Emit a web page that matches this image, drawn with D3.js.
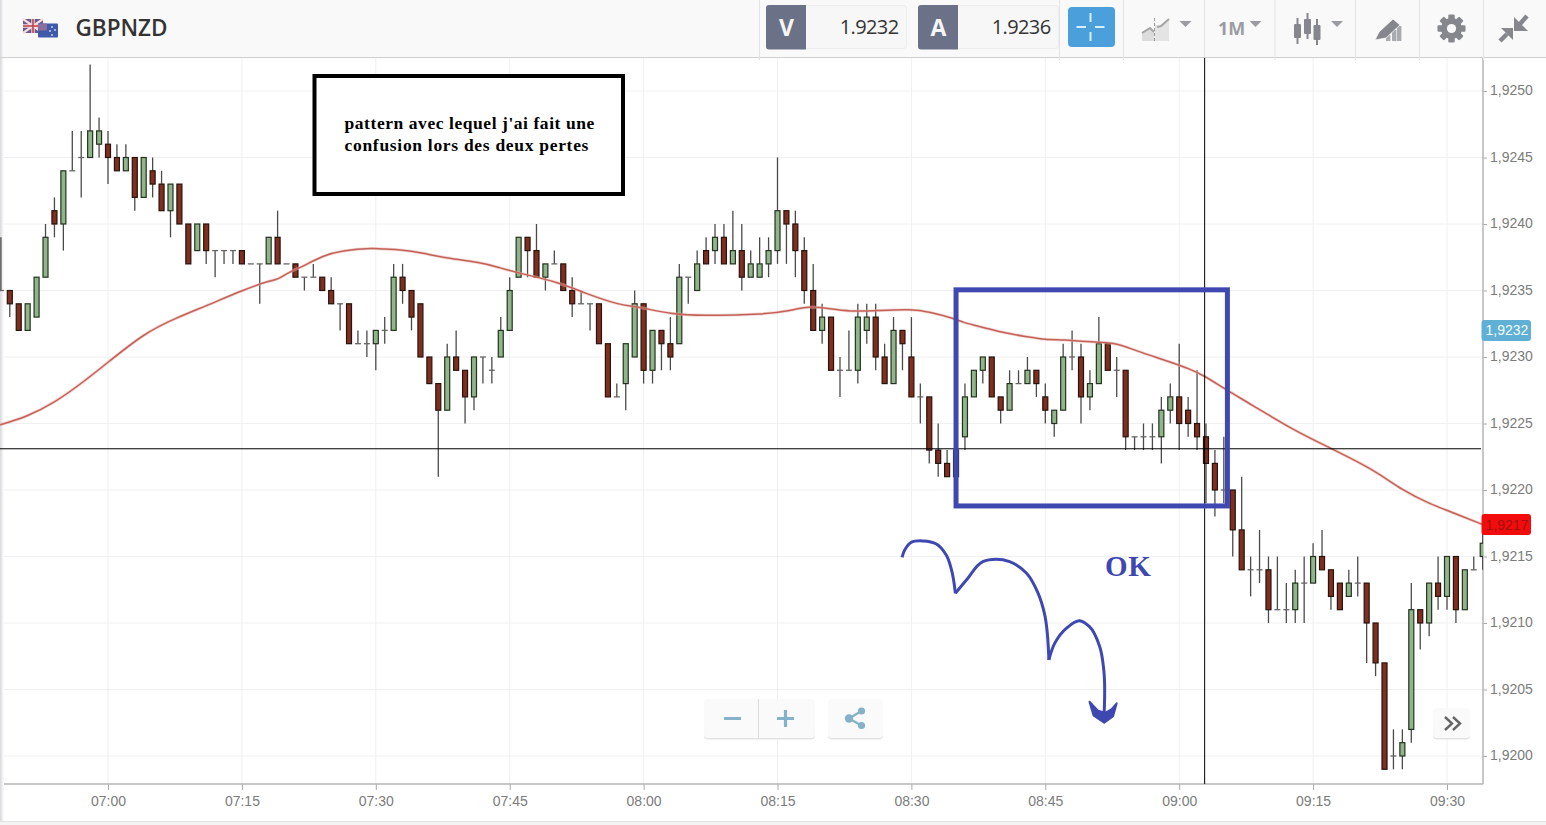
<!DOCTYPE html>
<html><head><meta charset="utf-8">
<script src="https://d3js.org/d3.v7.min.js"></script>
<style>html,body{margin:0;padding:0;background:#fff;overflow:hidden}svg{display:block}</style>
</head><body>
<svg id="c" width="1546" height="825"></svg>
<script>
const symbol = "GBPNZD";
const bidPrice = "1.9232", askPrice = "1.9236";
const firstMinute = -12; // minutes relative to 07:00; prices in pips above 1.9200
const openPips = [
35,35,34,32,33,36,41,40,44,45,
45,46,46,45,44,45,42,44,43,41,
43,40,38,40,38,38,38,38,37,37,
37,39,37,37,36,36,36,35,34,34,
31,31,31,32,32,36,35,34,30,28,
26,30,29,27,30,29,30,32,36,39,
38,36,37,37,35,34,34,34,31,27,
28,30,34,29,32,31,31,36,35,38,
38,39,37,38,36,36,37,38,41,40,
38,35,32,33,29,29,29,32,33,30,
28,32,30,27,27,23,22,21,24,27,
29,30,27,26,28,28,29,27,25,26,
30,30,27,28,31,29,29,24,24,24,
24,26,27,26,25,24,22,20,20,17,
14,14,14,11,11,11,13,13,15,14,
13,12,13,13,10,7,0,0,2,11,
10,13,12,15,11,14,15];
const closePips = [
35,34,32,34,36,39,40,44,44,45,
47,47,45,44,45,42,45,43,41,43,
40,37,40,38,38,38,38,37,37,37,
39,37,37,36,36,36,35,34,34,31,
31,31,32,32,36,35,33,30,28,26,
30,29,27,30,30,29,32,35,39,38,
36,37,37,35,34,34,34,31,27,27,
31,34,29,32,31,30,36,36,37,37,
39,37,38,36,37,37,38,41,40,38,
35,32,33,29,29,29,33,33,30,28,
32,31,27,27,23,22,21,23,27,29,
30,27,26,28,28,29,28,26,26,30,
30,27,28,31,29,29,24,24,24,24,
26,27,25,25,24,22,20,20,17,14,
14,14,11,11,11,13,13,15,14,12,
11,13,13,10,7,-1,0,1,11,10,
13,12,15,11,14,14,16];
const highPips = [
39,35,34,34,36,40,42,44,47,47,
52,48,47,46,46,45,45,45,44,43,
43,40,40,40,38,38,38,38,37,37,
39,41,37,37,36,37,36,36,34,34,
32,32,32,33,37,37,35,34,30,28,
31,32,29,30,30,30,33,36,39,39,
40,37,38,37,36,35,34,34,31,28,
31,35,34,32,32,33,37,36,38,39,
40,40,41,40,38,39,39,45,41,41,
39,37,34,33,30,32,34,34,34,31,
33,32,33,28,27,25,23,23,28,29,
30,30,27,29,29,30,29,28,26,31,
32,31,29,33,31,30,29,24,25,25,
27,28,31,27,29,25,23,24,20,21,
15,17,15,15,13,14,15,16,17,14,
13,14,15,13,10,7,2,2,13,11,
13,15,15,15,14,15,17];
const lowPips = [
35,33,32,32,33,36,39,38,44,42,
45,45,43,44,44,41,42,42,41,39,
40,37,38,37,36,37,37,37,37,34,
37,37,37,36,35,36,35,34,32,31,
31,30,29,31,32,34,32,30,28,21,
26,29,25,26,28,28,30,32,36,36,
36,35,37,35,33,34,32,31,27,27,
26,30,28,28,29,29,31,34,35,37,
37,37,37,35,36,36,36,37,37,36,
34,32,31,29,27,29,28,31,29,28,
28,29,27,25,22,21,21,21,23,27,
28,27,25,26,28,28,27,25,24,26,
29,25,26,28,29,27,23,23,23,23,
22,25,23,24,23,19,18,19,15,14,
12,13,10,11,10,10,10,13,14,11,
11,12,12,7,6,-1,-1,-1,1,8,
9,11,11,10,11,14,14];
const maMinutes = [-12.1,-9.1,-5.9,-2.8,0,4.1,7.5,11.2,15,18.1,19,20.3,21.5,24,26.1,29.9,31,32.5,35.5,37.2,41.9,43.9,46.1,50.6,53.4,57.3,59.2,63.2,66.3,73.8,76.4,78.6,80.3,83.1,86.4,90,92,94.8,95.7,98.2,100.4,103.2,104.9,107.2,109.4,112.8,115,118.9,121.2,122.8,125.1,127.9,132.8,136.8,141.9,144.9,148.3,149.9,154];
const maPips = [24.9,25.5,26.6,28.1,29.6,31.8,32.9,33.9,35,35.75,35.8,36.4,36.7,37.6,38,38.2,38.1,38.1,37.8,37.5,37.1,36.7,36.3,35.6,34.8,33.9,33.8,33.2,33.1,33.2,33.5,33.8,33.7,33.4,33.5,33.6,33.4,32.9,32.6,32.2,31.8,31.5,31.3,31.3,31.15,31.1,30.5,29.65,29.1,28.6,27.6,26.5,24.5,23.2,21.5,20,18.9,18.5,17.4];
const timeTicks = [0,15,30,45,60,75,90,105,120,135,150];
const timeLabels = ["07:00","07:15","07:30","07:45","08:00","08:15","08:30","08:45","09:00","09:15","09:30"];
const priceTicks = [0,5,10,15,20,25,30,35,40,45,50];
const priceLabels = ["1,9200","1,9205","1,9210","1,9215","1,9220","1,9225","1,9230","1,9235","1,9240","1,9245","1,9250"];
const crossMinute = 122.85, crossPips = 23.1;
const boxMinutes = [95, 125.4], boxPips = [18.8, 35.05];
const noteLines = ["pattern avec lequel j'ai fait une", "confusion lors des deux pertes"];
const noteTracking = [0.56, 0.7];
const okLabel = "OK";
const bidTag = "1,9232", askTag = "1,9217";
const bidTagPips = 32, askTagPips = 17.4;
const scribbleMinutes = [88.95,89.25,90,91.3,92.8,93.9,94.5,94.93,96.16,98,99.5,101,102.9,104.2,104.9,105.4,106.05,107.35,108.85,109.95,111.1,111.55,111.55];
const scribblePips = [14.94,15.49,16.07,16.17,15.94,15.11,13.98,12.23,13.23,14.61,14.79,14.61,13.74,12.23,10.73,7.22,8.47,9.6,10.17,9.72,8.22,6.47,2.58];
const headMinutes = [109.95,110.4,111.6,112.6,113,112.4,111.7,110.9];
const headPips = [4.08,3.05,2.5,3,3.96,3.5,3.25,3.4];

const svg = d3.select("#c");
const W = 1546, H = 825;
const plotR = 1483, plotT = 57, plotB = 784;
const x = d3.scaleLinear().domain([0,150]).range([108,1447]);
const y = d3.scaleLinear().domain([0,50]).range([756,91]);
const blue = "#3f48b0";

svg.append("rect").attr("width",W).attr("height",H).attr("fill","#fff");
const defs = svg.append("defs");
const sg = defs.append("linearGradient").attr("id","sh");
sg.append("stop").attr("offset",0).attr("stop-color","#d8d8dc");
sg.append("stop").attr("offset",1).attr("stop-color","#fff");
defs.append("clipPath").attr("id","plot").append("rect").attr("x",0).attr("y",plotT).attr("width",plotR).attr("height",plotB-plotT);

// Grid
const grid = svg.append("g").attr("stroke","#f0f0f2").attr("stroke-width",1);
grid.selectAll(".v").data(timeTicks).join("line").attr("x1",d=>x(d)).attr("x2",d=>x(d)).attr("y1",plotT).attr("y2",plotB);
grid.selectAll(".h").data(priceTicks).join("line").attr("x1",0).attr("x2",plotR).attr("y1",d=>y(d)).attr("y2",d=>y(d));

// Axes
const fmtX = d=>timeLabels[timeTicks.indexOf(d)], fmtY = d=>priceLabels[priceTicks.indexOf(d)];
const xa = svg.append("g").attr("transform",`translate(0,${plotB})`)
  .call(d3.axisBottom(x).tickValues(timeTicks).tickFormat(fmtX).tickSize(6).tickPadding(6));
xa.select(".domain").remove();
xa.append("line").attr("x1",0).attr("x2",plotR).attr("stroke","#b4b4b4").attr("stroke-width",1.5);
const ya = svg.append("g").attr("transform",`translate(${plotR},0)`)
  .call(d3.axisRight(y).tickValues(priceTicks).tickFormat(fmtY).tickSize(4).tickPadding(3));
ya.select(".domain").remove();
ya.selectAll(".tick text").attr("dy","0.25em");
ya.append("line").attr("y1",plotT).attr("y2",plotB).attr("stroke","#b4b4b4").attr("stroke-width",1.5);
svg.selectAll(".tick line").attr("stroke","#aaa");
svg.selectAll(".tick text").attr("fill","#7c7c7c").attr("font-family","'Liberation Sans',Arial,sans-serif").attr("font-size",14);

// Left shadow and bottom strip
svg.append("rect").attr("x",0).attr("y",0).attr("width",4).attr("height",H).attr("fill","url(#sh)");
svg.append("rect").attr("x",0).attr("y",821).attr("width",W).attr("height",4).attr("fill","#f4f4f4");
svg.append("line").attr("x1",0).attr("x2",W).attr("y1",821.5).attr("y2",821.5).attr("stroke","#e2e2e2");

// Candles
const candles = openPips.map((o,i)=>({m:firstMinute+i,o,c:closePips[i],h:highPips[i],l:lowPips[i]}));
const g = svg.append("g").attr("clip-path","url(#plot)");
const bw = 6;
const cg = g.selectAll(".candle").data(candles).join("g").attr("class","candle");
cg.append("line").attr("x1",d=>x(d.m)).attr("x2",d=>x(d.m)).attr("y1",d=>y(d.h)).attr("y2",d=>y(d.l))
  .attr("stroke","#4a4a4a").attr("stroke-width",1.3);
cg.filter(d=>d.o===d.c).append("line").attr("x1",d=>x(d.m)-3).attr("x2",d=>x(d.m)+3).attr("y1",d=>y(d.o)).attr("y2",d=>y(d.o))
  .attr("stroke","#666").attr("stroke-width",1.3);
cg.filter(d=>d.o!==d.c).append("rect").attr("x",d=>x(d.m)-bw/2+0.5).attr("width",bw-1)
  .attr("y",d=>y(Math.max(d.o,d.c))).attr("height",d=>Math.abs(y(d.o)-y(d.c)))
  .attr("fill",d=>d.c>d.o?"#90b58a":"#7d2f20").attr("stroke",d=>d.c>d.o?"#24331f":"#2a120c").attr("stroke-width",1.2);

// Moving average
const maPts = maMinutes.map((m,i)=>[m,maPips[i]]);
const ma = d3.line().x(d=>x(d[0])).y(d=>y(d[1])).curve(d3.curveBasis);
g.append("path").attr("d",ma(maPts)).attr("fill","none").attr("stroke","#e6b3ac").attr("stroke-width",3).attr("opacity",0.55);
g.append("path").attr("d",ma(maPts)).attr("fill","none").attr("stroke","#c4625a").attr("stroke-width",1.5);

// Crosshair
svg.append("line").attr("x1",0).attr("x2",1481).attr("y1",y(crossPips)).attr("y2",y(crossPips)).attr("stroke","#000").attr("stroke-width",1);
svg.append("line").attr("x1",x(crossMinute)).attr("x2",x(crossMinute)).attr("y1",plotT).attr("y2",plotB).attr("stroke","#000").attr("stroke-width",1);

// Blue box
svg.append("rect").attr("x",x(boxMinutes[0])).attr("y",y(boxPips[1])).attr("width",x(boxMinutes[1])-x(boxMinutes[0])).attr("height",y(boxPips[0])-y(boxPips[1]))
  .attr("fill","none").attr("stroke",blue).attr("stroke-width",5);

// Note box
svg.append("rect").attr("x",314.5).attr("y",76).attr("width",308.5).attr("height",118).attr("fill","#fff").attr("stroke","#000").attr("stroke-width",4);
svg.append("g").selectAll("text").data(noteLines).join("text").attr("x",344.5).attr("y",(d,i)=>129+i*22)
  .attr("font-family","'Liberation Serif','Times New Roman',serif").attr("font-weight","bold").attr("font-size",17.5).attr("letter-spacing",(d,i)=>noteTracking[i]).attr("fill","#000").text(d=>d);

// OK
svg.append("text").attr("x",1105).attr("y",576).attr("font-family","'Liberation Serif',serif").attr("font-weight","bold").attr("font-size",29).attr("letter-spacing",0.7).attr("fill",blue).text(okLabel);

// Scribble
const scr = d3.line().x(d=>x(d[0])).y(d=>y(d[1])).curve(d3.curveCatmullRom.alpha(0.9));
const scrPts = scribbleMinutes.map((m,i)=>[m,scribblePips[i]]);
[[0,8],[7,16],[15,23]].forEach(r=>svg.append("path").attr("d",scr(scrPts.slice(r[0],r[1])))
  .attr("fill","none").attr("stroke",blue).attr("stroke-width",3));
svg.append("path").attr("d",d3.line().x(d=>x(d[0])).y(d=>y(d[1])).curve(d3.curveLinearClosed)(headMinutes.map((m,i)=>[m,headPips[i]])))
  .attr("fill",blue).attr("stroke",blue).attr("stroke-width",2).attr("stroke-linejoin","round");

// Price tags
function tag(py,fill,color,txt){
  svg.append("rect").attr("x",1481.5).attr("y",py-10.5).attr("width",49.5).attr("height",21).attr("rx",3).attr("fill",fill);
  svg.append("text").attr("x",1507).attr("y",py+5).attr("text-anchor","middle").attr("font-family","'Liberation Sans',sans-serif").attr("font-size",14).attr("fill",color).text(txt);
}
tag(y(bidTagPips),"#5fb0d4","#f2fbff",bidTag);
tag(y(askTagPips),"#f20c0c","#a31010",askTag);

// Toolbar
const tb = svg.append("g");
tb.append("rect").attr("width",W).attr("height",57).attr("fill","#f9f9f9");
tb.append("line").attr("x1",0).attr("x2",W).attr("y1",57.5).attr("y2",57.5).attr("stroke","#cfcfcf").attr("stroke-width",1);
tb.append("rect").attr("x",0).attr("y",0).attr("width",4).attr("height",57).attr("fill","url(#sh)");
[759.5,1059.5,1123.5,1275,1355.5,1419.5,1483.5].forEach(px=>tb.append("line").attr("x1",px).attr("x2",px).attr("y1",0).attr("y2",60).attr("stroke","#e4e4e4"));
tb.append("line").attr("x1",1204.5).attr("x2",1204.5).attr("y1",0).attr("y2",57).attr("stroke","#e4e4e4");

// flag
const fl = tb.append("g");
fl.append("rect").attr("x",23).attr("y",19).attr("width",20).attr("height",14).attr("fill","#6a5a8c");
fl.append("path").attr("d","M23 19L43 33M43 19L23 33").attr("stroke","#f2dde0").attr("stroke-width",2.2);
fl.append("path").attr("d","M33 19V33M23 26H43").attr("stroke","#f2dde0").attr("stroke-width",3.4);
fl.append("path").attr("d","M33 19V33M23 26H43").attr("stroke","#c0404a").attr("stroke-width",1.6);
fl.append("rect").attr("x",38).attr("y",23.5).attr("width",20).attr("height",14).attr("rx",1).attr("fill","#3e5aa8");
fl.append("rect").attr("x",38).attr("y",23.5).attr("width",9).attr("height",7).attr("fill","#8a6f9f");
[[52,27],[55,30],[50,31],[52,35]].forEach(p=>fl.append("circle").attr("cx",p[0]).attr("cy",p[1]).attr("r",0.9).attr("fill","#d8dcef"));
tb.append("text").attr("x",75.5).attr("y",36).attr("font-family","'Open Sans',sans-serif").attr("font-weight",600).attr("font-size",22.5).attr("fill","#333").text(symbol);

// V / A boxes
function quote(bx,letter,val){
  tb.append("rect").attr("x",bx+0.5).attr("y",5.5).attr("width",140).attr("height",43).attr("rx",3).attr("fill","#f7f7f7").attr("stroke","#ececec");
  tb.append("path").attr("d",`M${bx+3} 5H${bx+40}V49.5H${bx+3}a3 3 0 0 1-3-3V8a3 3 0 0 1 3-3Z`).attr("fill","#6b7186");
  tb.append("text").attr("x",bx+20.5).attr("y",36).attr("text-anchor","middle").attr("font-family","'Open Sans',sans-serif").attr("font-weight",700).attr("font-size",23).attr("fill","#f5f5f5").text(letter);
  tb.append("text").attr("x",bx+132.5).attr("y",33.5).attr("text-anchor","end").attr("font-family","'Open Sans',sans-serif").attr("font-size",20).attr("letter-spacing",-0.6).attr("fill","#333").text(val);
}
quote(766,"V",bidPrice);
quote(918,"A",askPrice);

// crosshair button
tb.append("rect").attr("x",1068).attr("y",7).attr("width",47).attr("height",40).attr("rx",4).attr("fill","#4ba0dc");
tb.append("path").attr("d","M1090.5 13V22M1090.5 32V41M1076.5 27H1086M1095 27H1104.5").attr("stroke","#d8eefb").attr("stroke-width",2);

const ic = "#9a9ca2";
// area icon
tb.append("path").attr("d","M1142 32L1150 28L1154 31V41H1142Z").attr("fill","#dcdcdc");
tb.append("path").attr("d","M1155 24L1160 27L1169 20V41H1155Z").attr("fill","#e4e4e4");
tb.append("path").attr("d","M1142 33L1150 28L1154 32M1157 27L1161 26L1169 19").attr("fill","none").attr("stroke","#a4a4a4").attr("stroke-width",2);
tb.append("line").attr("x1",1154.5).attr("x2",1154.5).attr("y1",18).attr("y2",42).attr("stroke","#9a9a9a").attr("stroke-dasharray","3 2");
const tri = (cx,cy)=>tb.append("path").attr("d",`M${cx-6} ${cy-3}H${cx+6}L${cx} ${cy+3}Z`).attr("fill",ic);
tri(1185.5,24);
tb.append("text").attr("x",1218).attr("y",34.5).attr("font-family","'Open Sans',sans-serif").attr("font-weight",700).attr("font-size",18).attr("fill",ic).text("1M");
tri(1255.5,24);
// candle icon
[[1297.5,18,44,24,38],[1307.5,13,39,19,34],[1317,19,45,25,40]].forEach(c=>{
  tb.append("line").attr("x1",c[0]).attr("x2",c[0]).attr("y1",c[1]).attr("y2",c[2]).attr("stroke","#85878d").attr("stroke-width",2);
  tb.append("rect").attr("x",c[0]-3.5).attr("y",c[3]).attr("width",7).attr("height",c[4]-c[3]).attr("rx",1).attr("fill","#85878d");
});
tri(1337,24);
// pencil with bars
[[1386,35],[1392,30],[1397,26]].forEach(b=>tb.append("rect").attr("x",b[0]).attr("y",b[1]).attr("width",4.4).attr("height",41-b[1]).attr("fill","#a9abb0"));
tb.append("path").attr("d","M1375 40L1379 32L1393 19L1400 25L1386 38Z").attr("fill","#85878d").attr("stroke","#f9f9f9").attr("stroke-width",0.8);
// gear
const gear = tb.append("g").attr("transform","translate(1451.5,28.5)");
d3.range(4).forEach(i=>gear.append("rect").attr("x",-3.2).attr("y",-14).attr("width",6.4).attr("height",28).attr("rx",1.2).attr("fill","#85878d").attr("transform",`rotate(${i*45})`));
gear.append("circle").attr("r",10.5).attr("fill","#85878d");
gear.append("circle").attr("r",4.6).attr("fill","#f9f9f9");
// compress arrows
tb.append("path").attr("d","M1514 17L1528 31H1514Z").attr("fill","#85878d");
tb.append("path").attr("d","M1520 24L1527 16").attr("stroke","#85878d").attr("stroke-width",4.5);
tb.append("path").attr("d","M1501 28H1513V40Z").attr("fill","#85878d");
tb.append("path").attr("d","M1507 34L1500 41").attr("stroke","#85878d").attr("stroke-width",4.5);

// Zoom buttons
const btn = svg.append("g");
const panel = (px,py,pw,ph)=>{btn.append("rect").attr("x",px).attr("y",py+1.5).attr("width",pw).attr("height",ph).attr("rx",4).attr("fill","#e3e3e3");
  btn.append("rect").attr("x",px).attr("y",py).attr("width",pw).attr("height",ph).attr("rx",4).attr("fill","#fafafa");};
panel(704,699,111,39); panel(828,699,55,39);
btn.append("line").attr("x1",758.5).attr("x2",758.5).attr("y1",699).attr("y2",738).attr("stroke","#dcdcdc");
btn.append("path").attr("d","M724 718.5H741M777 718.5H794M785.5 710V727").attr("stroke","#85b1c9").attr("stroke-width",3.2);
btn.append("path").attr("d","M849 718.5L861.5 711M849 718.5L861.5 725.5").attr("stroke","#85b1c9").attr("stroke-width",2.2);
[[849,718.5,4.2],[861.5,711,3.6],[861.5,725.5,3.6]].forEach(c=>btn.append("circle").attr("cx",c[0]).attr("cy",c[1]).attr("r",c[2]).attr("fill","#85b1c9"));
panel(1433,708,37,30);
btn.append("path").attr("d","M1445 717L1452 723.5L1445 730M1453 717L1460 723.5L1453 730").attr("fill","none").attr("stroke","#666").attr("stroke-width",2.4);
</script>
</body></html>
